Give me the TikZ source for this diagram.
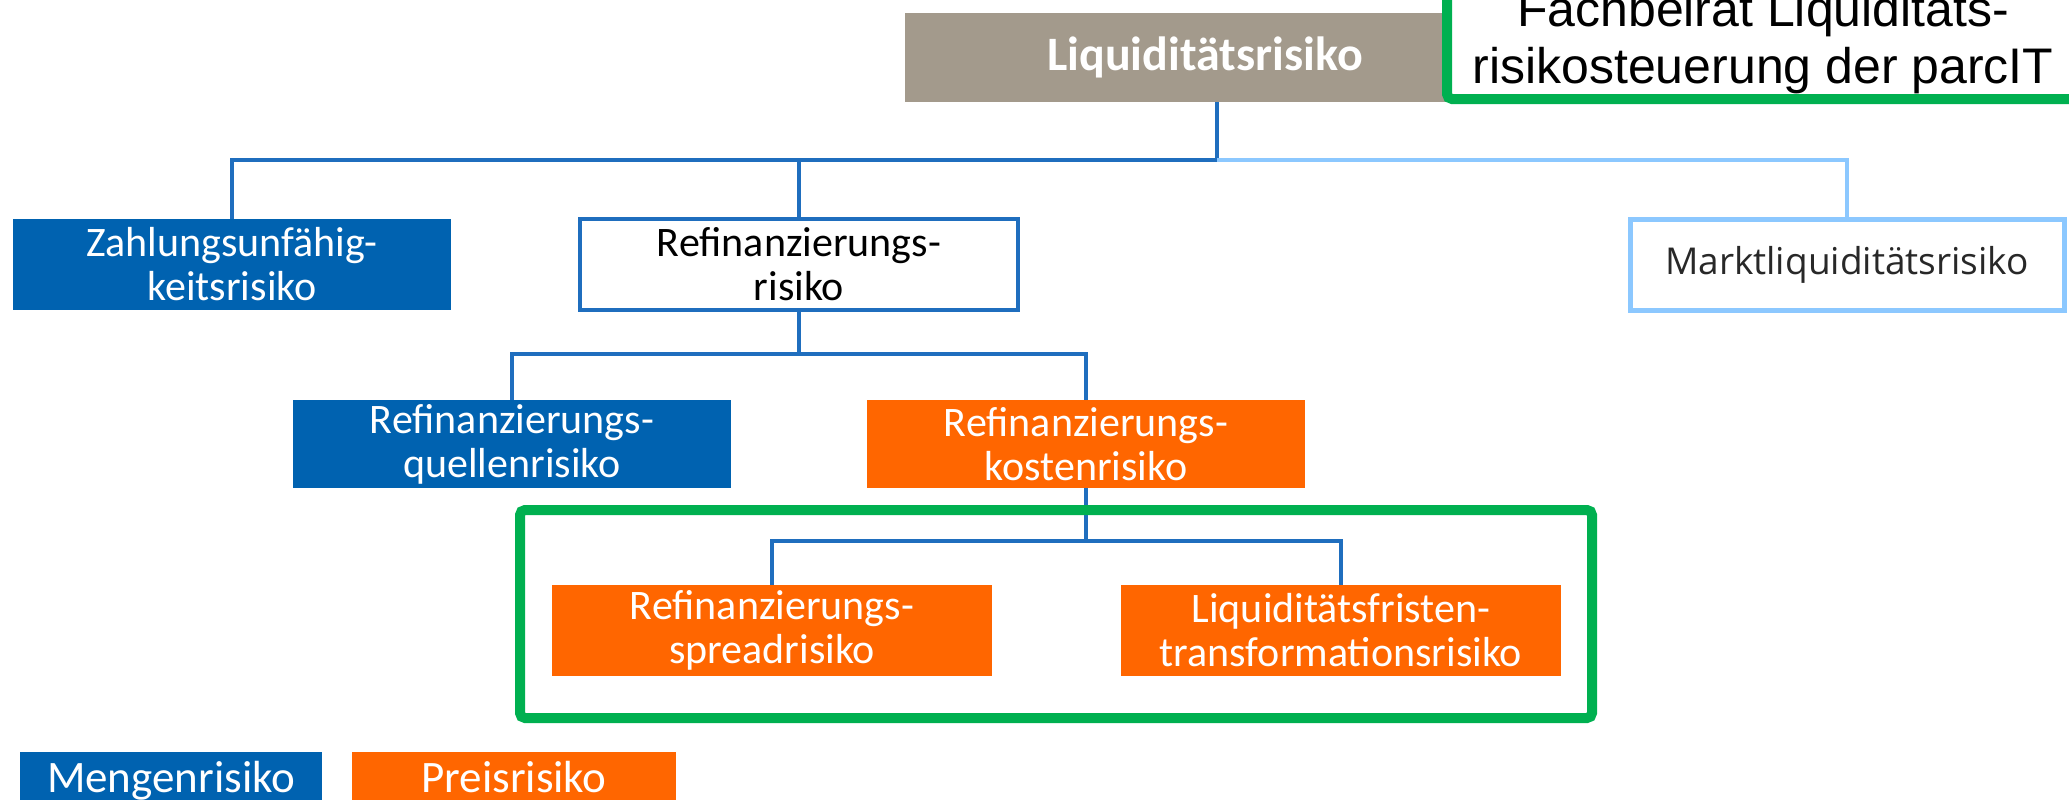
\documentclass[tikz,border=0pt]{standalone}
\usepackage{fontspec}
\setmainfont{Carlito}
\newfontfamily\arialfont{Liberation Sans}
\newfontfamily\segoefont{Open Sans}
\usepackage{tikz}
\usetikzlibrary{calc}

\definecolor{mblue}{RGB}{0,98,176}
\definecolor{porange}{RGB}{255,102,0}
\definecolor{liqgray}{RGB}{163,154,140}
\definecolor{framegreen}{RGB}{0,176,80}
\definecolor{linkblue}{RGB}{31,110,190}
\definecolor{lightlink}{RGB}{140,200,255}
\definecolor{darktext}{RGB}{40,40,40}

\newcommand{\riskfont}{\fontsize{42}{44}\selectfont}

\tikzset{
  riskbox/.style={rectangle, minimum width=438, minimum height=91, inner sep=0pt, align=center, font=\riskfont},
  mengen/.style={riskbox, fill=mblue, text=white},
  preis/.style={riskbox, fill=porange, text=white},
  conn/.style={draw=linkblue, line width=4},
  connlight/.style={draw=lightlink, line width=4},
}

\begin{document}
\begin{tikzpicture}[x=1pt,y=-1pt]
    \useasboundingbox (0,0) rectangle (2069,800);
    \clip (0,0) rectangle (2069,800);
    % top
    \node (liq) [riskbox, fill=liqgray, text=white, minimum width=600, minimum height=89, font=\fontsize{48}{50}\selectfont\bfseries] at (1205,57.5) {Liquiditätsrisiko};
    % first level
    \node (zahl) [mengen] at (232,264.5) {Zahlungsunfähig-\\keitsrisiko};
    \node (refin) [riskbox, fill=white, draw=linkblue, line width=4, text=black] at (799,264.5) {Refinanzierungs-\\risiko};
    \node (markt) [riskbox, fill=white, draw=lightlink, line width=5, text=darktext, minimum width=434, font=\segoefont\fontsize{37}{40}\selectfont] at (1847,264.5) {Marktliquiditätsrisiko};
    % second level
    \node (quellen) [mengen, minimum height=88] at (512,444) {Refinanzierungs-\\quellenrisiko};
    \node (kosten) [preis, minimum height=88] at (1086,444) {Refinanzierungs-\\kostenrisiko};
    % third level
    \node (spread) [preis, minimum width=440] at (772,630.5) {Refinanzierungs-\\spreadrisiko};
    \node (fristen) [preis, minimum width=440] at (1341,630.5) {Liquiditätsfristen-\\transformationsrisiko};
    % legend
    \node (leg1) [mengen, minimum width=302, minimum height=0, text height=40, text depth=28, font=\fontsize{45}{48}\selectfont, anchor=base] at (171,792) {Mengenrisiko};
    \node (leg2) [preis, minimum width=324, minimum height=0, text height=40, text depth=28, font=\fontsize{45}{48}\selectfont, anchor=base] at (514,792) {Preisrisiko};
    % connectors
    \coordinate (bus1) at (1217,160);
    \coordinate (bus2) at (799,354);
    \coordinate (bus3) at (1086,541);
    \draw [conn] (bus1 |- liq.south) -- (bus1) -| (zahl.north);
    \draw [conn] (bus1) -| (refin.north);
    \draw [connlight] (bus1) -| (markt.north);
    \draw [conn] (refin.south) -- (bus2) -| (quellen.north);
    \draw [conn] (bus2) -| (kosten.north);
    \draw [conn] (kosten.south) -- (bus3) -| (spread.north);
    \draw [conn] (bus3) -| (fristen.north);
    % green frames
    \draw [framegreen, line width=10, rounded corners=5] (520,510) rectangle (1592,718);
    \node (beirat) [draw=framegreen, fill=white, line width=10, rounded corners=5, minimum width=632, minimum height=114, align=center, font=\arialfont\fontsize{50}{57}\selectfont] at (1763,42) {Fachbeirat Liquiditäts-\\risikosteuerung der parcIT};
\end{tikzpicture}
\end{document}
